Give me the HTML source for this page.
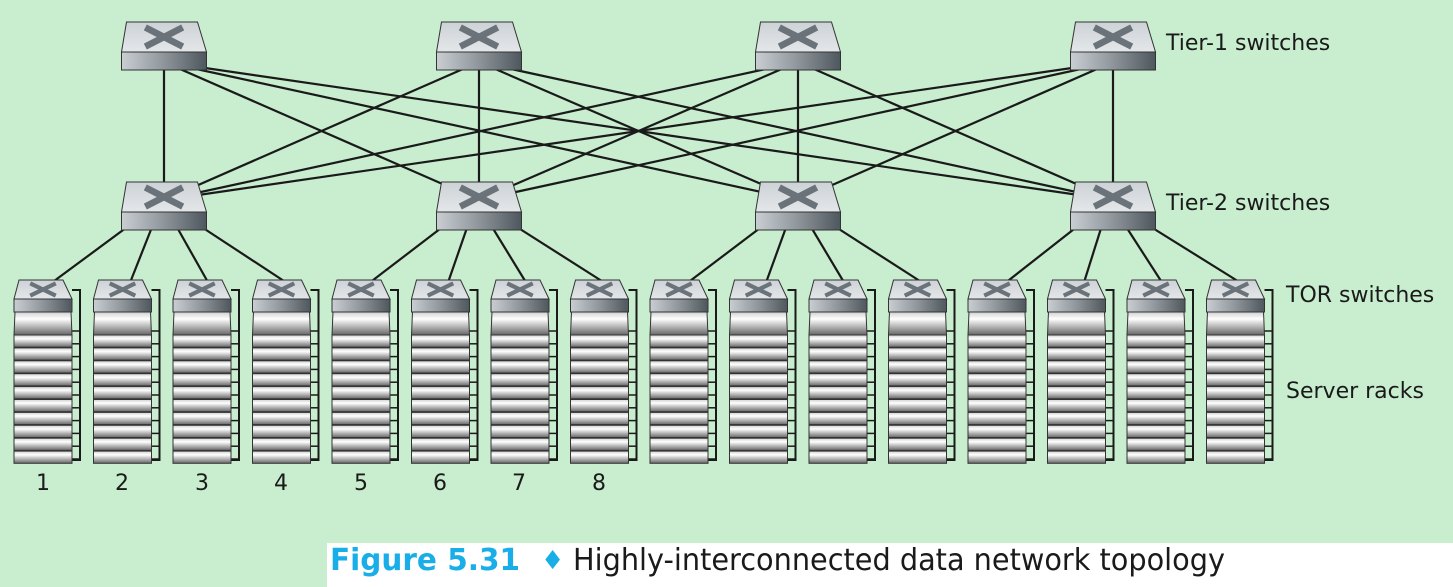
<!DOCTYPE html>
<html><head><meta charset="utf-8"><style>
html,body{margin:0;padding:0;background:#c8edcf;}
svg{display:block}
text{font-family:"DejaVu Sans","Liberation Sans",sans-serif;}
</style></head><body>
<svg id="s" width="1453" height="587" viewBox="0 0 1453 587" xmlns="http://www.w3.org/2000/svg">
<defs>
<linearGradient id="front" x1="0" x2="1" y1="0" y2="0">
<stop offset="0" stop-color="#c9ced2"/><stop offset="0.5" stop-color="#8e969c"/><stop offset="1" stop-color="#4e575d"/></linearGradient>
<linearGradient id="topf" x1="0" x2="0" y1="0" y2="1">
<stop offset="0" stop-color="#cdd2d6"/><stop offset="1" stop-color="#e4e7ea"/></linearGradient>
<linearGradient id="srv" x1="0" x2="0" y1="0" y2="1">
<stop offset="0" stop-color="#d0d0d0"/><stop offset="0.3" stop-color="#ffffff"/><stop offset="1" stop-color="#666666"/></linearGradient>
</defs>
<rect width="1453" height="587" fill="#c8edcf"/>
<g id="lines" stroke="#1a1a1a" stroke-width="2.2" fill="none"></g>
<g id="shapes"></g>
<rect x="327" y="543" width="1126" height="44" fill="#fff"/>
<g font-size="22" fill="#1a1a1a">
<text x="1166" y="50">Tier-1 switches</text>
<text x="1166" y="210">Tier-2 switches</text>
<text x="1286" y="302">TOR switches</text>
<text x="1286" y="398">Server racks</text>
<text x="43" y="490" text-anchor="middle">1</text>
<text x="122" y="490" text-anchor="middle">2</text>
<text x="202" y="490" text-anchor="middle">3</text>
<text x="281" y="490" text-anchor="middle">4</text>
<text x="361" y="490" text-anchor="middle">5</text>
<text x="440" y="490" text-anchor="middle">6</text>
<text x="519" y="490" text-anchor="middle">7</text>
<text x="599" y="490" text-anchor="middle">8</text>
</g>
<text x="330" y="570" font-size="30" font-weight="bold" fill="#1aaee8" textLength="190" lengthAdjust="spacingAndGlyphs">Figure 5.31</text>
<text x="541" y="569" font-size="26" fill="#1aaee8">♦</text>
<text x="573" y="570" font-size="30" fill="#1a1a1a" textLength="652" lengthAdjust="spacingAndGlyphs">Highly-interconnected data network topology</text>
</svg>
<script>
var NS="http://www.w3.org/2000/svg";
var L=document.getElementById('lines'),S=document.getElementById('shapes');
function el(p,tag,a){var e=document.createElementNS(NS,tag);for(var k in a)e.setAttribute(k,a[k]);p.appendChild(e);return e;}
function line(x1,y1,x2,y2){el(L,'line',{x1:x1,y1:y1,x2:x2,y2:y2});}
var cx=[164,479,798,1113];
for(var i=0;i<4;i++)for(var j=0;j<4;j++)line(cx[i],62,cx[j],200);
function sw(c,y,w,th,fh){
  var x=c-w/2;
  el(S,'path',{d:'M'+(x+5)+' '+y+'H'+(x+w-9)+'L'+(x+w)+' '+(y+th)+'H'+x+'Z',fill:'url(#topf)',stroke:'#333','stroke-width':1});
  el(S,'rect',{x:x,y:y+th,width:w,height:fh,fill:'url(#front)',stroke:'#333','stroke-width':1});
  var mx=c,my=y+th/2,dx=w*0.22,dy=th*0.32;
  el(S,'path',{d:'M'+(mx-dx)+' '+(my-dy)+'L'+(mx+dx)+' '+(my+dy)+'M'+(mx+dx)+' '+(my-dy)+'L'+(mx-dx)+' '+(my+dy),stroke:'#6a7379','stroke-width':th*0.22,fill:'none'});
}
for(var i=0;i<4;i++){sw(cx[i],22,85,30,18);}
var rx=[];for(var r=0;r<16;r++)rx.push(14+r*79.5);
for(var i=0;i<4;i++)for(var k=0;k<4;k++){var r=i*4+k;line(cx[i]-30+k*20,222,rx[r]+36,284);}
for(var i=0;i<4;i++){sw(cx[i],182,85,30,18);}
for(var r=0;r<16;r++){
  var x=rx[r];
  el(S,'path',{d:'M'+(x+58)+' 290H'+(x+66)+'V460H'+(x+58),stroke:'#1a1a1a','stroke-width':2,fill:'none'});
  for(var n=0;n<11;n++){var yy=335+n*12.8;el(S,'line',{x1:x+58,y1:yy-4,x2:x+66,y2:yy-4,stroke:'#1a1a1a','stroke-width':1.5});}
  el(S,'path',{d:'M'+(x+1)+' 312H'+(x+57)+'L'+(x+58)+' 335H'+x+'Z',fill:'url(#srv)',stroke:'#333','stroke-width':1});
  for(var n=0;n<10;n++){el(S,'rect',{x:x,y:335+n*12.9,width:58,height:12.2,fill:'url(#srv)',stroke:'#333','stroke-width':1});}
  sw(x+29,280,58,19,13);
}
</script>
</body></html>
